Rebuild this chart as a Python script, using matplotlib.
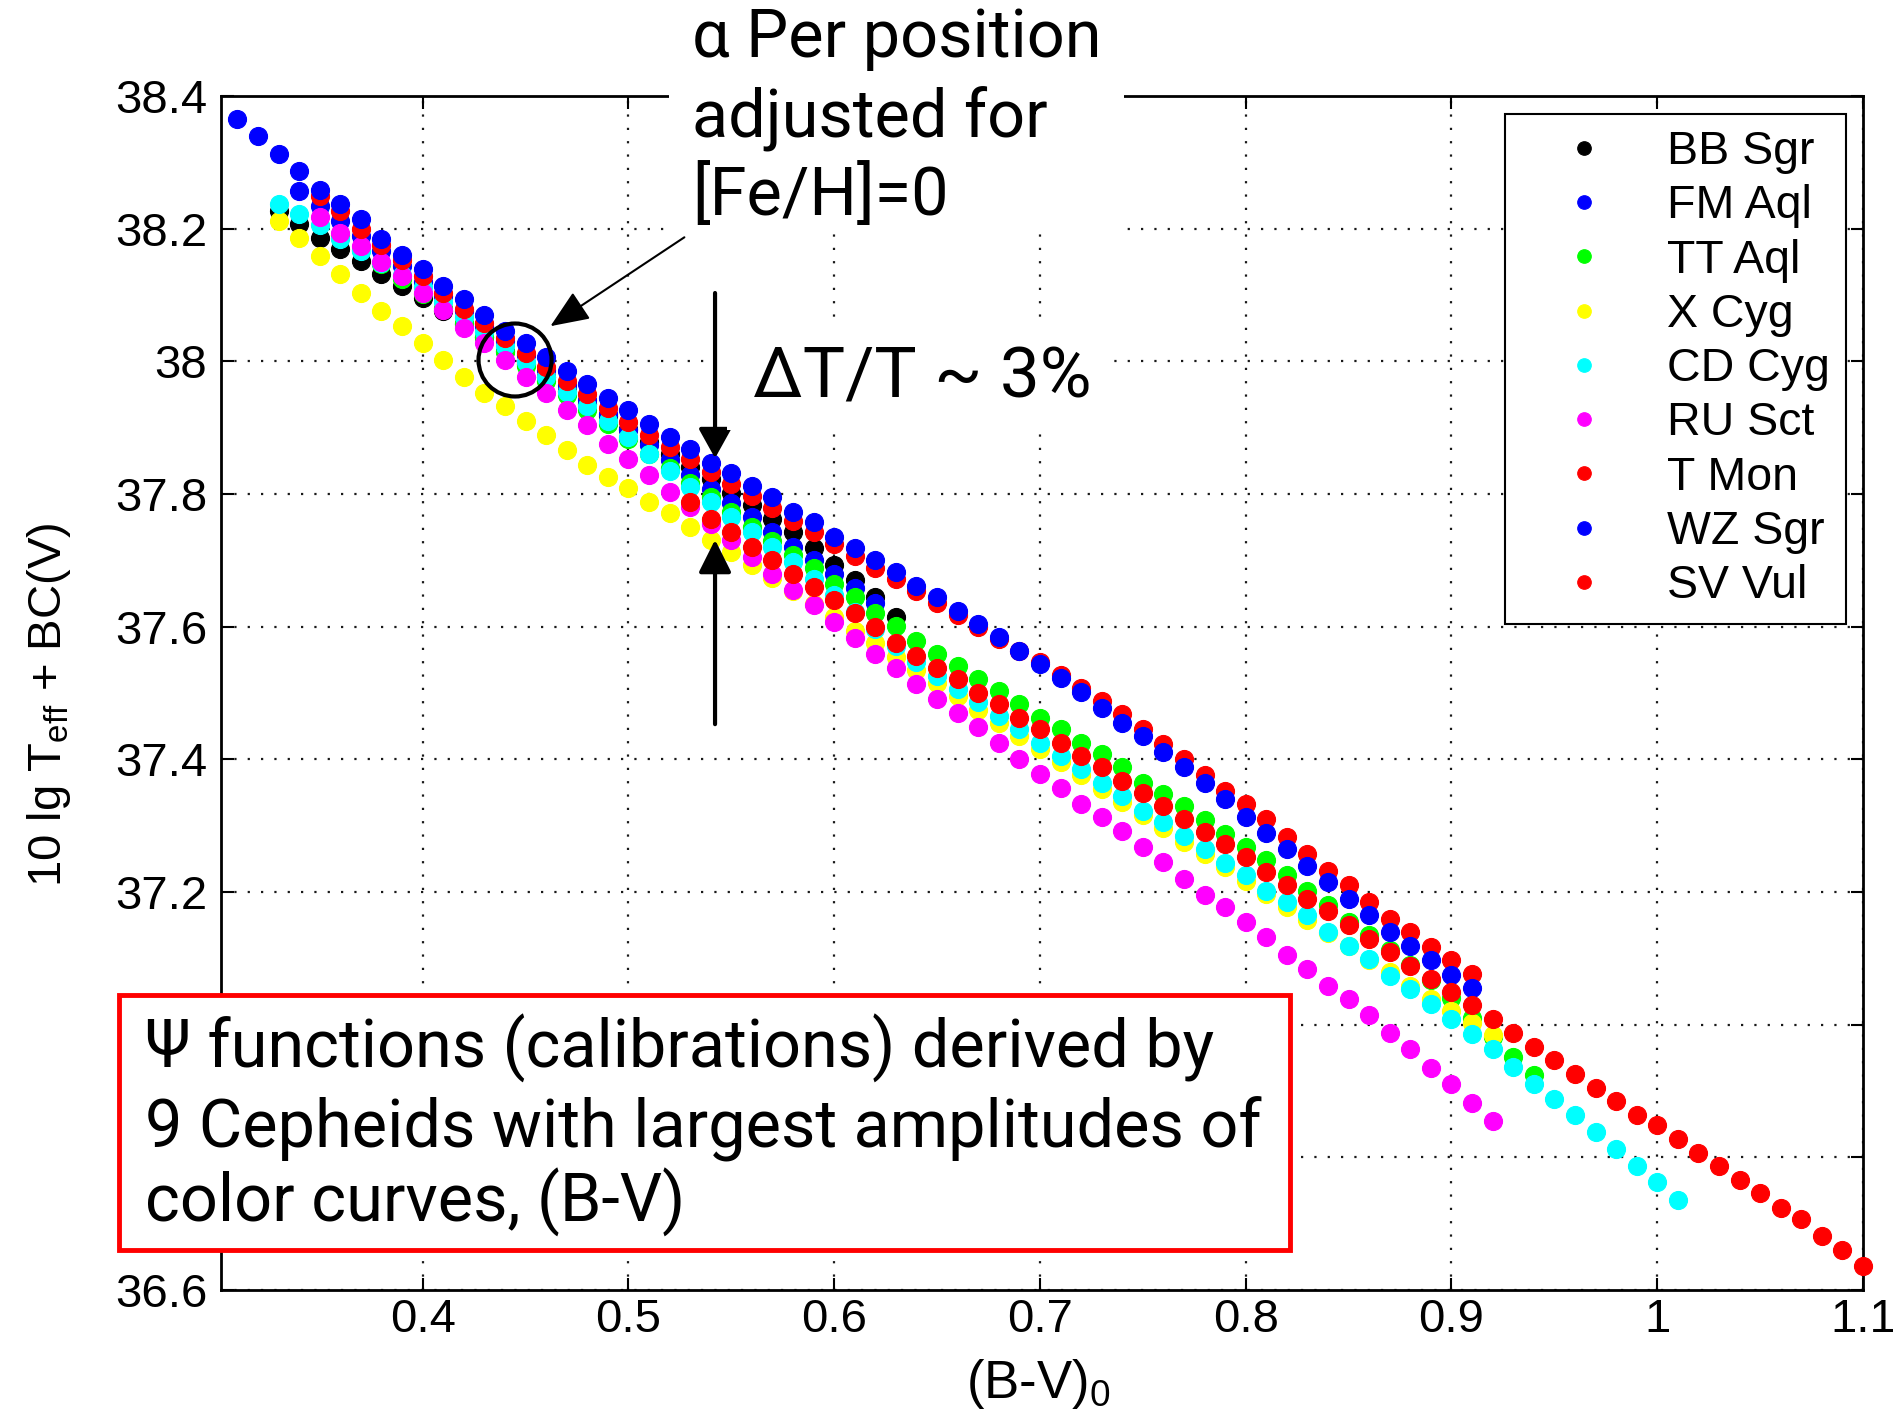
import numpy as np
import matplotlib
matplotlib.use('Agg')
import matplotlib.pyplot as plt
from matplotlib.patches import Rectangle, Ellipse

# B-V grid of the tabulated calibrations (step 0.01)
bv_grid = [0.31, 0.32, 0.33, 0.34, 0.35, 0.36, 0.37, 0.38, 0.39, 0.40,
           0.41, 0.42, 0.43, 0.44, 0.45, 0.46, 0.47, 0.48, 0.49, 0.50,
           0.51, 0.52, 0.53, 0.54, 0.55, 0.56, 0.57, 0.58, 0.59, 0.60,
           0.61, 0.62, 0.63, 0.64, 0.65, 0.66, 0.67, 0.68, 0.69, 0.70,
           0.71, 0.72, 0.73, 0.74, 0.75, 0.76, 0.77, 0.78, 0.79, 0.80,
           0.81, 0.82, 0.83, 0.84, 0.85, 0.86, 0.87, 0.88, 0.89, 0.90,
           0.91, 0.92, 0.93, 0.94, 0.95, 0.96, 0.97, 0.98, 0.99, 1.00,
           1.01, 1.02, 1.03, 1.04, 1.05, 1.06, 1.07, 1.08, 1.09, 1.10]

# 10 lg Teff + BC(V) for each Cepheid, starting at the given (B-V)0
bb_sgr_from = 0.33
bb_sgr = [38.227, 38.207, 38.186, 38.169, 38.151, 38.131, 38.113, 38.096,
          38.076, 38.056, 38.036, 38.016, 37.996, 37.976, 37.956, 37.936, 37.917, 37.898,
          37.879, 37.860, 37.841, 37.823, 37.802, 37.783, 37.762, 37.742, 37.718, 37.693,
          37.670, 37.645, 37.615]

fm_aql_from = 0.34
fm_aql = [38.257, 38.234, 38.212, 38.189, 38.166, 38.143, 38.120,
          38.098, 38.076, 38.053, 38.031, 38.009, 37.987, 37.964, 37.942, 37.920, 37.897,
          37.874, 37.851, 37.828, 37.808, 37.786, 37.766, 37.743, 37.720, 37.700, 37.680,
          37.658, 37.635]

tt_aql_from = 0.36
tt_aql = [38.190, 38.168, 38.146, 38.124, 38.102,
          38.080, 38.058, 38.036, 38.014, 37.993, 37.971, 37.949, 37.927, 37.905, 37.883,
          37.861, 37.839, 37.817, 37.795, 37.773, 37.751, 37.729, 37.708, 37.688, 37.665,
          37.645, 37.620, 37.601, 37.579, 37.559, 37.541, 37.521, 37.503, 37.483, 37.463,
          37.445, 37.425, 37.408, 37.388, 37.365, 37.347, 37.330, 37.308, 37.288, 37.268,
          37.248, 37.225, 37.202, 37.180, 37.155, 37.135, 37.112, 37.090, 37.068, 37.040,
          37.010, 36.982, 36.952, 36.924]

x_cyg_from = 0.33
x_cyg = [38.212, 38.186, 38.159, 38.131, 38.103, 38.076, 38.053, 38.028,
         38.002, 37.977, 37.952, 37.932, 37.910, 37.889, 37.866, 37.843, 37.826, 37.809,
         37.788, 37.771, 37.750, 37.731, 37.712, 37.693, 37.673, 37.654, 37.634, 37.614,
         37.594, 37.575, 37.555, 37.535, 37.515, 37.495, 37.475, 37.455, 37.435, 37.415,
         37.396, 37.376, 37.356, 37.336, 37.316, 37.296, 37.276, 37.257, 37.237, 37.217,
         37.197, 37.177, 37.158, 37.138, 37.118, 37.098, 37.079, 37.059, 37.039, 37.020,
         37.002, 36.984]

cd_cyg_from = 0.33
cd_cyg = [38.237, 38.222, 38.205, 38.185, 38.166, 38.148, 38.130, 38.112,
          38.090, 38.067, 38.044, 38.023, 37.999, 37.977, 37.954, 37.932, 37.910, 37.886,
          37.860, 37.834, 37.811, 37.788, 37.766, 37.743, 37.720, 37.697, 37.672, 37.647,
          37.622, 37.597, 37.571, 37.546, 37.526, 37.506, 37.486, 37.465, 37.445, 37.425,
          37.405, 37.385, 37.365, 37.345, 37.322, 37.305, 37.285, 37.265, 37.243, 37.225,
          37.202, 37.185, 37.165, 37.140, 37.119, 37.099, 37.074, 37.054, 37.031, 37.009,
          36.986, 36.963, 36.936, 36.911, 36.888, 36.864, 36.838, 36.813, 36.787, 36.763,
          36.736]

ru_sct_from = 0.35
ru_sct = [38.217, 38.194, 38.174, 38.150, 38.129, 38.103,
          38.078, 38.050, 38.028, 38.002, 37.977, 37.952, 37.926, 37.904, 37.876, 37.853,
          37.828, 37.803, 37.780, 37.755, 37.730, 37.705, 37.680, 37.656, 37.632, 37.607,
          37.583, 37.559, 37.538, 37.513, 37.491, 37.470, 37.448, 37.425, 37.401, 37.378,
          37.357, 37.332, 37.313, 37.292, 37.268, 37.245, 37.220, 37.196, 37.178, 37.155,
          37.132, 37.105, 37.084, 37.059, 37.039, 37.014, 36.987, 36.963, 36.935, 36.910,
          36.882, 36.855]

t_mon_from = 0.35
t_mon = [38.249, 38.227, 38.199, 38.176, 38.153, 38.128,
         38.103, 38.079, 38.058, 38.035, 38.013, 37.992, 37.971, 37.951, 37.929, 37.909,
         37.889, 37.871, 37.853, 37.833, 37.815, 37.797, 37.779, 37.760, 37.742, 37.724,
         37.706, 37.688, 37.672, 37.654, 37.636, 37.618, 37.600, 37.582, 37.564, 37.546,
         37.527, 37.508, 37.488, 37.468, 37.445, 37.423, 37.400, 37.376, 37.353, 37.333,
         37.310, 37.283, 37.258, 37.232, 37.210, 37.185, 37.160, 37.139, 37.117, 37.097,
         37.077]

wz_sgr_from = 0.31
wz_sgr = [38.366, 38.340, 38.312, 38.287, 38.259, 38.237, 38.214, 38.185, 38.161, 38.139,
          38.113, 38.094, 38.070, 38.045, 38.027, 38.007, 37.986, 37.966, 37.944, 37.926,
          37.906, 37.886, 37.868, 37.846, 37.831, 37.812, 37.796, 37.773, 37.758, 37.735,
          37.718, 37.700, 37.683, 37.662, 37.644, 37.624, 37.604, 37.584, 37.564, 37.543,
          37.523, 37.501, 37.478, 37.455, 37.435, 37.411, 37.388, 37.365, 37.340, 37.313,
          37.289, 37.265, 37.239, 37.215, 37.190, 37.165, 37.139, 37.119, 37.097, 37.075,
          37.055]

sv_vul_from = 0.53
sv_vul = [37.788, 37.763, 37.743, 37.720, 37.700, 37.680, 37.660, 37.640,
          37.620, 37.599, 37.576, 37.556, 37.538, 37.521, 37.500, 37.483, 37.463, 37.445,
          37.425, 37.405, 37.388, 37.367, 37.350, 37.330, 37.310, 37.290, 37.273, 37.253,
          37.230, 37.211, 37.190, 37.171, 37.150, 37.129, 37.109, 37.089, 37.069, 37.049,
          37.029, 37.009, 36.987, 36.966, 36.946, 36.926, 36.905, 36.885, 36.864, 36.848,
          36.827, 36.807, 36.787, 36.766, 36.746, 36.724, 36.707, 36.682, 36.661, 36.636]

names = ['BB Sgr', 'FM Aql', 'TT Aql', 'X Cyg', 'CD Cyg', 'RU Sct', 'T Mon', 'WZ Sgr', 'SV Vul']
colors = ['#000000', '#0000ff', '#00ff00', '#ffff00', '#00ffff', '#ff00ff', '#ff0000', '#0000ff', '#ff0000']
starts = [bb_sgr_from, fm_aql_from, tt_aql_from, x_cyg_from, cd_cyg_from,
          ru_sct_from, t_mon_from, wz_sgr_from, sv_vul_from]
series = [bb_sgr, fm_aql, tt_aql, x_cyg, cd_cyg, ru_sct, t_mon, wz_sgr, sv_vul]

xticks = [0.4, 0.5, 0.6, 0.7, 0.8, 0.9, 1.0, 1.1]
xticklabels = ['0.4', '0.5', '0.6', '0.7', '0.8', '0.9', '1', '1.1']
yticks = [36.6, 36.8, 37.0, 37.2, 37.4, 37.6, 37.8, 38.0, 38.2, 38.4]
# 37 and 36.8 sit under the red note box, so they are not shown
yticklabels = ['36.6', '', '', '37.2', '37.4', '37.6', '37.8', '38', '38.2', '38.4']

plt.rcParams['font.family'] = ['Liberation Sans', 'DejaVu Sans']
plt.rcParams['mathtext.fontset'] = 'custom'
plt.rcParams['mathtext.rm'] = 'Liberation Sans'
plt.rcParams['mathtext.it'] = 'Liberation Sans'

W, H = 1893, 1418
fig = plt.figure(figsize=(W / 100, H / 100), dpi=100)


def fx(px):
    return px / W


def fy(py):
    return 1 - py / H


ax = fig.add_axes([fx(221), fy(1290), fx(1863) - fx(221), fy(96) - fy(1290)])

for name, col, x0, vals in zip(names, colors, starts, series):
    i0 = bv_grid.index(x0)
    xs = bv_grid[i0:i0 + len(vals)]
    ax.plot(xs, vals, linestyle='none', marker='o', ms=13, color=col,
            mec=col, mew=0.8, clip_on=False, zorder=3, label=name)

ax.set_xlim(0.302, 1.1)
ax.set_ylim(36.6, 38.4)
ax.set_xticks(xticks)
ax.set_xticklabels(xticklabels)
ax.set_yticks(yticks)
ax.set_yticklabels(yticklabels)
ax.tick_params(direction='in', length=9, width=1.5, top=True, right=True, labelsize=34)
ax.tick_params(axis='x', pad=6)
ax.tick_params(axis='y', pad=10)
ax.grid(True, color='k', linestyle=(0, (1, 5)), linewidth=1.6, alpha=0.9)
ax.set_axisbelow(True)
for sp in ax.spines.values():
    sp.set_linewidth(2)

ax.set_xlabel('(B-V)$_0$', fontsize=38)
ax.xaxis.set_label_coords(0.4976, -0.056)
ax.set_ylabel('10 lg T$_{\\rm eff}$ + BC(V)', fontsize=34)
ax.yaxis.set_label_coords(-0.09, 0.49)

leg = ax.legend(loc='upper right', bbox_to_anchor=(0.9896, 0.985), borderaxespad=0,
                fontsize=33.5, frameon=True, fancybox=False, edgecolor='k', framealpha=1,
                markerscale=0.75, handlelength=2.7, handletextpad=0.42,
                labelspacing=0.22, borderpad=0.35, numpoints=1)
leg.get_frame().set_linewidth(1.5)
leg.set_zorder(5)

# circle around the alpha Per position
ax.add_patch(Ellipse((0.4449, 38.002), 0.0355, 0.110, fill=False, lw=3, ec='k', zorder=6))

# arrows
ax.annotate('', xy=(0.4621, 38.053), xytext=(0.5272, 38.187),
            arrowprops=dict(arrowstyle='-|>,head_length=1.2,head_width=0.5', mutation_scale=20,
                            lw=1.5, color='k', shrinkA=0, shrinkB=0), zorder=6)
ax.annotate('', xy=(0.5421, 37.854), xytext=(0.5421, 38.103),
            arrowprops=dict(arrowstyle='-|>,head_length=0.9,head_width=0.5', mutation_scale=20,
                            lw=3, color='k', shrinkA=0, shrinkB=0), zorder=6)
ax.annotate('', xy=(0.5421, 37.731), xytext=(0.5421, 37.453),
            arrowprops=dict(arrowstyle='-|>,head_length=1.0,head_width=0.5', mutation_scale=20,
                            lw=3, color='k', shrinkA=0, shrinkB=0), zorder=6)

hand = ['Roboto', 'DejaVu Sans']

# alpha Per note, on a white patch over the frame
fig.add_artist(Rectangle((fx(669), fy(232)), fx(1124) - fx(669), fy(0) - fy(232),
                         transform=fig.transFigure, facecolor='white', edgecolor='none', zorder=8))
for txt, base in zip(['\u03b1 Per position', 'adjusted for', '[Fe/H]=0'], [57, 138, 215]):
    fig.text(fx(692), fy(base), txt, fontsize=48, family=hand, va='baseline', ha='left', zorder=9)

fig.add_artist(Rectangle((fx(727), fy(430)), fx(1110) - fx(727), fy(322) - fy(430),
                         transform=fig.transFigure, facecolor='white', edgecolor='none', zorder=8))
fig.text(fx(753), fy(397), '\u0394T/T ~ 3%', fontsize=51, family=hand, va='baseline', ha='left', zorder=9)

# red box with the note on the calibrations
fig.add_artist(Rectangle((fx(119), fy(1250)), fx(1290) - fx(119), fy(995) - fy(1250),
                         transform=fig.transFigure, facecolor='white', edgecolor='#ff0000',
                         lw=3.5, zorder=10))
box_lines = ['\u03a8 functions (calibrations) derived by',
             '9 Cepheids with largest amplitudes of',
             'color curves, (B-V)']
for txt, base in zip(box_lines, [1068, 1147, 1222]):
    fig.text(fx(145), fy(base), txt, fontsize=48, family=hand, va='baseline', ha='left', zorder=11)

fig.savefig('out.png', dpi=100)
